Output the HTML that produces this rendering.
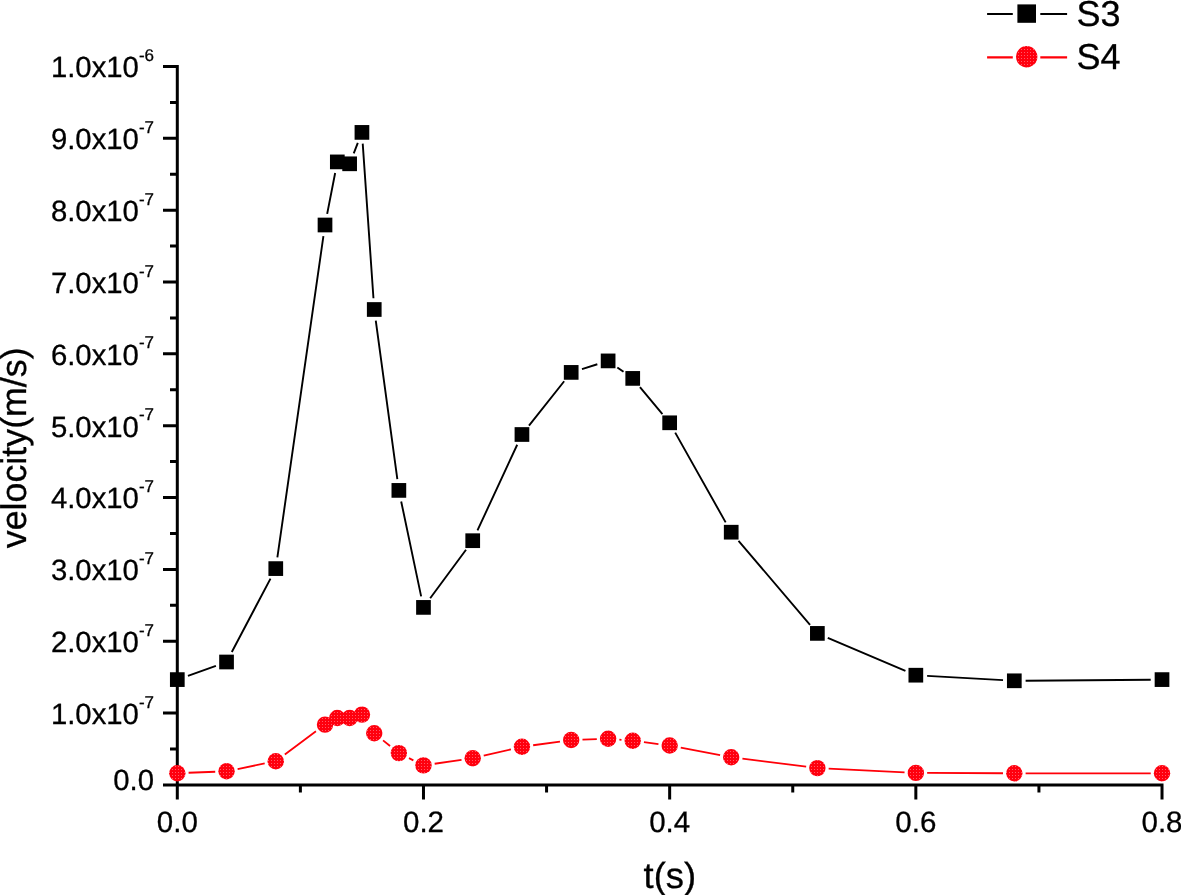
<!DOCTYPE html><html><head><meta charset="utf-8"><title>velocity vs t</title><style>html,body{margin:0;padding:0;background:#fff;}body{width:1181px;height:895px;overflow:hidden;}svg{display:block;}text{text-rendering:geometricPrecision;font-family:"Liberation Sans",Arial,sans-serif;fill:#000;stroke:#000;stroke-width:0.3px;}</style></head><body>
<svg width="1181" height="895" viewBox="0 0 1181 895">
<rect width="1181" height="895" fill="#fff"/>
<defs><pattern id="dots" width="3" height="3" patternUnits="userSpaceOnUse"><rect width="3" height="3" fill="#ff000e"/><rect x="1" y="1" width="1" height="1" fill="#ff5a68"/></pattern></defs>
<path d="M177.30 65.00V786.40M163.00 784.90H1163.50M170.00 748.98H178.80M163.00 713.06H178.80M170.00 677.14H178.80M163.00 641.22H178.80M170.00 605.30H178.80M163.00 569.38H178.80M170.00 533.46H178.80M163.00 497.54H178.80M170.00 461.62H178.80M163.00 425.70H178.80M170.00 389.78H178.80M163.00 353.86H178.80M170.00 317.94H178.80M163.00 282.02H178.80M170.00 246.10H178.80M163.00 210.18H178.80M170.00 174.26H178.80M163.00 138.34H178.80M170.00 102.42H178.80M163.00 66.50H178.80M177.30 784.90V799.60M300.39 784.90V792.60M423.48 784.90V799.60M546.57 784.90V792.60M669.66 784.90V799.60M792.75 784.90V792.60M915.84 784.90V799.60M1038.93 784.90V792.60M1162.02 784.90V799.60" stroke="#000" stroke-width="3.0" fill="none" stroke-linecap="butt"/>
<text transform="translate(154.0 790.00) scale(1 1.0)" text-anchor="end" font-size="29.3">0.0</text>
<text transform="translate(154.0 723.86) scale(1 1.0)" text-anchor="end" font-size="29.3">1.0x10<tspan dy="-16.2" font-size="17.0">-7</tspan></text>
<text transform="translate(154.0 652.02) scale(1 1.0)" text-anchor="end" font-size="29.3">2.0x10<tspan dy="-16.2" font-size="17.0">-7</tspan></text>
<text transform="translate(154.0 580.18) scale(1 1.0)" text-anchor="end" font-size="29.3">3.0x10<tspan dy="-16.2" font-size="17.0">-7</tspan></text>
<text transform="translate(154.0 508.34) scale(1 1.0)" text-anchor="end" font-size="29.3">4.0x10<tspan dy="-16.2" font-size="17.0">-7</tspan></text>
<text transform="translate(154.0 436.50) scale(1 1.0)" text-anchor="end" font-size="29.3">5.0x10<tspan dy="-16.2" font-size="17.0">-7</tspan></text>
<text transform="translate(154.0 364.66) scale(1 1.0)" text-anchor="end" font-size="29.3">6.0x10<tspan dy="-16.2" font-size="17.0">-7</tspan></text>
<text transform="translate(154.0 292.82) scale(1 1.0)" text-anchor="end" font-size="29.3">7.0x10<tspan dy="-16.2" font-size="17.0">-7</tspan></text>
<text transform="translate(154.0 220.98) scale(1 1.0)" text-anchor="end" font-size="29.3">8.0x10<tspan dy="-16.2" font-size="17.0">-7</tspan></text>
<text transform="translate(154.0 149.14) scale(1 1.0)" text-anchor="end" font-size="29.3">9.0x10<tspan dy="-16.2" font-size="17.0">-7</tspan></text>
<text transform="translate(154.0 77.30) scale(1 1.0)" text-anchor="end" font-size="29.3">1.0x10<tspan dy="-16.2" font-size="17.0">-6</tspan></text>
<text transform="translate(177.30 831.5) scale(1 1.0)" text-anchor="middle" font-size="29.5">0.0</text>
<text transform="translate(423.48 831.5) scale(1 1.0)" text-anchor="middle" font-size="29.5">0.2</text>
<text transform="translate(669.66 831.5) scale(1 1.0)" text-anchor="middle" font-size="29.5">0.4</text>
<text transform="translate(915.84 831.5) scale(1 1.0)" text-anchor="middle" font-size="29.5">0.6</text>
<text transform="translate(1162.02 831.5) scale(1 1.0)" text-anchor="middle" font-size="29.5">0.8</text>
<text x="669.8" y="887.7" text-anchor="middle" font-size="36.4">t(s)</text>
<text transform="translate(26.3 447.8) rotate(-90)" x="0" y="0" text-anchor="middle" font-size="35.8">velocity(m/s)</text>
<path d="M187.94 675.80L215.90 665.80M231.81 652.00L270.50 578.60M277.37 557.41L323.41 236.19M327.17 213.91L335.15 172.99M353.75 153.28L357.81 142.92M362.72 143.67L373.46 298.23M375.77 320.70L397.34 479.20M401.19 501.46L421.15 596.34M430.19 598.31L466.01 549.79M477.47 530.45L517.20 444.75M528.97 425.65L564.17 381.25M581.98 369.04L597.33 364.26M617.33 367.45L623.52 371.85M639.96 387.09L662.43 414.11M675.20 432.65L725.66 522.35M738.53 540.80L810.04 624.80M827.77 637.82L905.44 670.78M927.12 675.84L1003.03 680.16M1025.61 680.71L1150.72 679.69" stroke="#000" stroke-width="1.9" fill="none"/>
<g fill="#000"><rect x="169.95" y="672.25" width="14.7" height="14.7"/><rect x="219.19" y="654.65" width="14.7" height="14.7"/><rect x="268.42" y="561.25" width="14.7" height="14.7"/><rect x="317.66" y="217.65" width="14.7" height="14.7"/><rect x="329.97" y="154.55" width="14.7" height="14.7"/><rect x="342.28" y="156.45" width="14.7" height="14.7"/><rect x="354.59" y="125.05" width="14.7" height="14.7"/><rect x="366.89" y="302.15" width="14.7" height="14.7"/><rect x="391.51" y="483.05" width="14.7" height="14.7"/><rect x="416.13" y="600.05" width="14.7" height="14.7"/><rect x="465.37" y="533.35" width="14.7" height="14.7"/><rect x="514.60" y="427.15" width="14.7" height="14.7"/><rect x="563.84" y="365.05" width="14.7" height="14.7"/><rect x="600.76" y="353.55" width="14.7" height="14.7"/><rect x="625.38" y="371.05" width="14.7" height="14.7"/><rect x="662.31" y="415.45" width="14.7" height="14.7"/><rect x="723.86" y="524.85" width="14.7" height="14.7"/><rect x="810.02" y="626.05" width="14.7" height="14.7"/><rect x="908.49" y="667.85" width="14.7" height="14.7"/><rect x="1006.96" y="673.45" width="14.7" height="14.7"/><rect x="1154.67" y="672.25" width="14.7" height="14.7"/></g>
<path d="M188.59 772.76L215.24 771.74M237.61 769.03L264.70 763.47M284.84 754.46L315.94 731.34M383.05 740.38L390.06 746.02M408.97 758.15L413.37 760.35M434.66 763.76L461.53 759.84M483.72 755.65L510.94 749.35M533.15 745.25L559.99 741.55M582.48 739.60L596.82 739.10M619.37 739.66L621.47 739.84M643.94 742.23L658.45 744.07M680.76 747.61L720.10 755.09M742.42 758.62L806.16 766.68M828.65 768.65L904.55 772.35M927.14 772.95L1003.01 773.25M1025.61 773.30L1150.72 773.30" stroke="#ff0008" stroke-width="1.8" fill="none"/>
<g fill="url(#dots)"><circle cx="177.30" cy="773.20" r="8.2"/><circle cx="226.54" cy="771.30" r="8.2"/><circle cx="275.77" cy="761.20" r="8.2"/><circle cx="325.01" cy="724.60" r="8.2"/><circle cx="337.32" cy="718.00" r="8.2"/><circle cx="349.63" cy="718.00" r="8.2"/><circle cx="361.94" cy="714.60" r="8.2"/><circle cx="374.24" cy="733.30" r="8.2"/><circle cx="398.86" cy="753.10" r="8.2"/><circle cx="423.48" cy="765.40" r="8.2"/><circle cx="472.72" cy="758.20" r="8.2"/><circle cx="521.95" cy="746.80" r="8.2"/><circle cx="571.19" cy="740.00" r="8.2"/><circle cx="608.12" cy="738.70" r="8.2"/><circle cx="632.73" cy="740.80" r="8.2"/><circle cx="669.66" cy="745.50" r="8.2"/><circle cx="731.21" cy="757.20" r="8.2"/><circle cx="817.37" cy="768.10" r="8.2"/><circle cx="915.84" cy="772.90" r="8.2"/><circle cx="1014.31" cy="773.30" r="8.2"/><circle cx="1162.02" cy="773.30" r="8.2"/></g>
<path d="M987.1 13.95H1012.8M1040.3 13.95H1067.1" stroke="#000" stroke-width="2" fill="none"/>
<rect x="1017.4" y="4.4" width="18.6" height="18.4" fill="#000"/>
<path d="M987.1 57.4H1012.8M1040.3 57.4H1067.1" stroke="#ff0008" stroke-width="2.1" fill="none"/>
<circle cx="1026.7" cy="56.8" r="10.7" fill="url(#dots)"/>
<text x="1076.6" y="25.6" font-size="36.0">S3</text>
<text x="1076.6" y="69.4" font-size="36.0">S4</text>
</svg></body></html>
